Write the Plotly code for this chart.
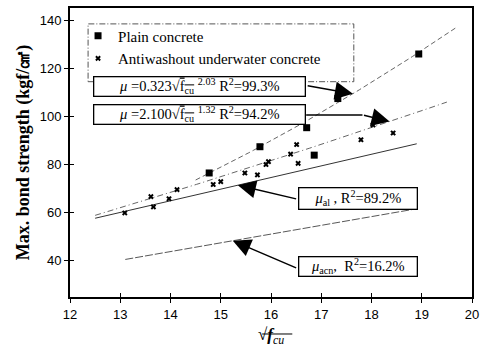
import numpy as np
import plotly.graph_objects as go

# Measured specimens: sqrt(f_cu) vs. maximum bond strength (kgf/cm^2)
plain_x = [14.77, 15.78, 16.71, 16.86, 17.33, 18.94]
plain_y = [76.5, 87.4, 95.3, 83.9, 107.4, 125.9]

awc_x = [13.09, 13.61, 13.66, 13.97, 14.13, 14.85, 15.00, 15.48, 15.73,
         15.90, 15.95, 16.39, 16.51, 16.54, 17.79, 18.03, 18.43]
awc_y = [59.9, 66.7, 62.4, 65.8, 69.6, 71.7, 72.9, 76.5, 75.7,
         80.0, 81.2, 84.3, 88.3, 80.5, 90.3, 96.4, 93.1]

# Regression coefficients
plain_a, plain_b, plain_r2 = 0.323, 2.03, 99.3
awc_a, awc_b, awc_r2 = 2.100, 1.32, 94.2
al_slope, al_icpt, al_r2 = 4.83, -2.67, 89.2
acn_slope, acn_icpt, acn_r2 = 3.63, -6.96, 16.2

# x-extent of each fitted curve
plain_span = (14.5, 19.7)
awc_span = (12.5, 19.5)
al_span = (12.5, 18.9)
acn_span = (13.1, 18.9)

x_ticks = [12, 13, 14, 15, 16, 17, 18, 19, 20]
y_ticks = [40, 60, 80, 100, 120, 140]


def power(a, b, x):
    return a * np.asarray(x) ** b


def linear(m, c, x):
    return m * np.asarray(x) + c


SERIF = "Liberation Serif"
SANS = "Liberation Sans"

fig = go.Figure()

xs = np.linspace(*plain_span, 60)
fig.add_trace(go.Scatter(x=xs, y=power(plain_a, plain_b, xs), mode="lines",
                         line=dict(color="#555", width=0.9, dash="5px,3px"),
                         showlegend=False, hoverinfo="skip"))
xs = np.linspace(*awc_span, 60)
fig.add_trace(go.Scatter(x=xs, y=power(awc_a, awc_b, xs), mode="lines",
                         line=dict(color="#555", width=0.9, dash="6px,3px,1px,3px"),
                         showlegend=False, hoverinfo="skip"))
xs = np.array(al_span)
fig.add_trace(go.Scatter(x=xs, y=linear(al_slope, al_icpt, xs), mode="lines",
                         line=dict(color="#333", width=1),
                         showlegend=False, hoverinfo="skip"))
xs = np.array(acn_span)
fig.add_trace(go.Scatter(x=xs, y=linear(acn_slope, acn_icpt, xs), mode="lines",
                         line=dict(color="#444", width=0.9, dash="8px,2px"),
                         showlegend=False, hoverinfo="skip"))

fig.add_trace(go.Scatter(x=plain_x, y=plain_y, mode="markers", name="Plain concrete",
                         marker=dict(symbol="square", size=7, color="black")))
fig.add_trace(go.Scatter(x=awc_x, y=awc_y, mode="markers",
                         name="Antiwashout underwater concrete",
                         marker=dict(symbol="x", size=5, color="black")))

# overlay axes giving the inward half of the crossing tick marks
fig.add_trace(go.Scatter(x=[None], y=[None], xaxis="x2", yaxis="y2",
                         showlegend=False, hoverinfo="skip"))

xr = [12, 20]
yr = [25, 145]
axis_font = dict(family=SANS, size=13, color="black")

fig.update_layout(
    width=490, height=356,
    margin=dict(l=70, r=18, t=6, b=59),
    paper_bgcolor="white", plot_bgcolor="white",
    showlegend=True,
    legend=dict(x=0.02, y=0.96, xanchor="left", yanchor="top",
                bgcolor="rgba(0,0,0,0)", borderwidth=0,
                font=dict(family=SERIF, size=15, color="black"),
                tracegroupgap=0, itemwidth=30),
    xaxis=dict(range=xr, tickvals=x_ticks, ticks="outside", ticklen=4,
               tickwidth=1, tickcolor="black", showgrid=False, zeroline=False,
               showline=True, linewidth=2, linecolor="black", mirror=True,
               tickfont=axis_font,
               title=dict(text="√<i><b>f</b><sub>cu</sub></i>",
                          font=dict(family=SERIF, size=17, color="black"),
                          standoff=8)),
    yaxis=dict(range=yr, tickvals=y_ticks, ticks="outside", ticklen=4,
               tickwidth=1, tickcolor="black", showgrid=False, zeroline=False,
               showline=True, linewidth=2, linecolor="black", mirror=True,
               tickfont=axis_font,
               title=dict(text="<b>Max. bond strength (kgf/㎠)</b>",
                          font=dict(family=SERIF, size=18, color="black"),
                          standoff=5)),
    xaxis2=dict(range=xr, tickvals=x_ticks, ticks="inside", ticklen=4,
                tickwidth=1, tickcolor="black", showticklabels=False,
                showgrid=False, zeroline=False, overlaying="x", anchor="y2",
                side="bottom"),
    yaxis2=dict(range=yr, tickvals=y_ticks, ticks="inside", ticklen=4,
                tickwidth=1, tickcolor="black", showticklabels=False,
                showgrid=False, zeroline=False, overlaying="y", anchor="x2",
                side="left"),
)

# dash-dot frame around the legend
fig.add_shape(type="rect", xref="paper", yref="paper",
              x0=0.045, x1=0.706, y0=0.745, y1=0.945,
              line=dict(color="#555", width=1, dash="6px,2px,1px,2px"))

# overline above the f_cu in the x-axis title
fig.add_shape(type="line", xref="paper", yref="paper",
              x0=0.478, x1=0.553, y0=-0.128, y1=-0.128,
              line=dict(color="black", width=1))

box_font = dict(family=SERIF, size=14.5, color="black")


def box(x, y, text, w, h):
    fig.add_annotation(x=x, y=y, xref="x", yref="y", text=text, showarrow=False,
                       width=w, height=h, align="center", valign="middle",
                       bordercolor="black", borderwidth=1.3, borderpad=0,
                       bgcolor="white", font=box_font)


box(14.585, 112.4,
    "<i>μ</i> =0.323√<span style='text-decoration:overline'>f<sub>cu</sub></span> "
    f"<sup>{plain_b:.2f}</sup> R<sup>2</sup>={plain_r2}%", 210, 18)
box(14.585, 100.7,
    "<i>μ</i> =2.100√<span style='text-decoration:overline'>f<sub>cu</sub></span> "
    f"<sup>{awc_b:.2f}</sup> R<sup>2</sup>={awc_r2}%", 210, 18)
box(17.73, 65.8, f"<i>μ</i><sub>al</sub> , R<sup>2</sup>={al_r2}%", 117, 20)
box(17.73, 37.5, f"<i>μ</i><sub>acn</sub>,  R<sup>2</sup>={acn_r2}%", 117, 18)


def arrow(tip_x, tip_y, tail_x, tail_y):
    fig.add_annotation(x=tip_x, y=tip_y, xref="x", yref="y",
                       ax=tail_x, ay=tail_y, axref="x", ayref="y",
                       text="", showarrow=True, arrowhead=2, arrowsize=2.4,
                       arrowwidth=1.5, arrowcolor="black", standoff=0)


# arrow tips sit on the fitted curves
t1 = 17.63
arrow(t1, float(power(plain_a, plain_b, t1)), 16.7, 112.8)
t2 = 18.36
fig.add_shape(type="line", xref="x", yref="y", x0=16.7, x1=17.82,
              y0=100.6, y1=100.6, line=dict(color="black", width=1.5))
arrow(t2, float(power(awc_a, awc_b, t2)), 17.82, 100.6)
t3 = 15.34
arrow(t3, float(linear(al_slope, al_icpt, t3)), 16.53, 65.6)
t4 = 15.24
arrow(t4, float(linear(acn_slope, acn_icpt, t4)), 16.53, 36.8)

fig.write_html("out.html")
